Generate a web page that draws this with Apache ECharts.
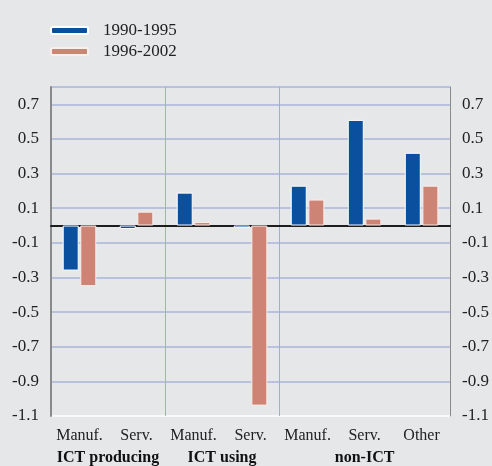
<!DOCTYPE html>
<html>
<head>
<meta charset="utf-8">
<script src="https://cdn.jsdelivr.net/npm/echarts@6/dist/echarts.min.js"></script>
<style>
    html, body { margin: 0; padding: 0; background: #e6e7e9; }
    #chart { width: 492px; height: 466px; }
</style>
</head>
<body>
<div id="chart"></div>
<script>
var categories = ['Manuf.', 'Serv.', 'Manuf.', 'Serv.', 'Manuf.', 'Serv.', 'Other'];
var groups = ['ICT producing', 'ICT using', 'non-ICT'];
var groupSpans = [2, 2, 3];
var s1990 = [-0.26, -0.02, 0.19, -0.015, 0.23, 0.61, 0.42];
var s1996 = [-0.35, 0.08, 0.02, -1.04, 0.15, 0.04, 0.23];
var yTicks = [-1.1, -0.9, -0.7, -0.5, -0.3, -0.1, 0.1, 0.3, 0.5, 0.7];

var myChart = echarts.init(document.getElementById('chart'));
var serif = '"Liberation Serif", "DejaVu Serif", serif';

// group boundaries (category index where each group starts) and centres
var bounds = [], centres = [], acc = 0;
for (var i = 0; i < groupSpans.length; i++) {
    bounds.push(acc);
    centres.push(acc + groupSpans[i] / 2);
    acc += groupSpans[i];
}

function tickLabel(v) {
    for (var i = 0; i < yTicks.length; i++) {
        if (Math.abs(yTicks[i] - v) < 1e-6) return yTicks[i].toFixed(1);
    }
    return '';
}

// bottom grid line white (plot border), the rest light blue
var gridColors = ['#ffffff'];
for (var j = 0; j < yTicks.length; j++) gridColors.push('#a9b5da');

var yBase = {
    type: 'value',
    min: -1.1,
    max: 0.8,
    interval: 0.2,
    axisTick: { show: false },
    axisLabel: {
        formatter: tickLabel,
        color: '#222',
        fontFamily: serif,
        fontSize: 17,
        margin: 12
    }
};

var option = {
    backgroundColor: '#e6e7e9',
    animation: false,
    legend: {
        orient: 'vertical',
        left: 45,
        top: 17,
        itemWidth: 37,
        itemHeight: 7,
        itemGap: 4,
        textStyle: {
            fontFamily: serif,
            fontSize: 17,
            color: '#222',
            padding: [0, 0, 0, 10]
        },
        data: ['1990-1995', '1996-2002']
    },
    grid: { left: 51, right: 35, top: 87, bottom: 49 },
    xAxis: [{
        type: 'category',
        data: categories,
        axisLine: { onZero: true, lineStyle: { color: '#111', width: 1.5 } },
        axisTick: { show: false },
        axisLabel: { show: false },
        splitLine: {
            show: true,
            interval: function(index) { return bounds.indexOf(index) > 0; },
            lineStyle: { color: '#9fadd9', width: 1 }
        }
    }, {
        type: 'category',
        data: categories,
        position: 'bottom',
        offset: 3,
        axisLine: { lineStyle: { color: '#111', width: 1.5 } },
        axisTick: {
            interval: function(index) { return bounds.indexOf(index) >= 0; },
            length: 5,
            lineStyle: { color: '#111' }
        },
        axisLabel: {
            interval: 0,
            color: '#222',
            fontFamily: serif,
            fontSize: 16,
            margin: 9
        },
        splitLine: { show: false }
    }, {
        type: 'value',
        position: 'bottom',
        offset: 3,
        min: 0,
        max: categories.length,
        interval: 0.5,
        axisLine: { show: false },
        axisTick: { show: false },
        splitLine: { show: false },
        axisLabel: {
            margin: 31,
            color: '#111',
            fontFamily: serif,
            fontSize: 16,
            fontWeight: 'bold',
            formatter: function(v) {
                var k = centres.indexOf(v);
                return k >= 0 ? groups[k] : '';
            }
        }
    }],
    yAxis: [
        echarts.util.merge({
            position: 'left',
            axisLine: { show: true, lineStyle: { color: '#8a8a8a', width: 2 } },
            splitLine: { show: true, lineStyle: { color: gridColors, width: 1.5 } }
        }, yBase, true),
        echarts.util.merge({
            position: 'right',
            axisLine: { show: true, lineStyle: { color: '#8a8a8a', width: 1 } },
            splitLine: { show: false }
        }, yBase, true)
    ],
    series: [{
        name: '1990-1995',
        type: 'bar',
        data: s1990,
        barWidth: 16,
        barGap: '10%',
        itemStyle: { color: '#0a509f', borderColor: '#fff', borderWidth: 1 }
    }, {
        name: '1996-2002',
        type: 'bar',
        data: s1996,
        barWidth: 16,
        itemStyle: { color: '#cd8474', borderColor: '#fbeeea', borderWidth: 1 }
    }]
};

myChart.setOption(option);
</script>
</body>
</html>
